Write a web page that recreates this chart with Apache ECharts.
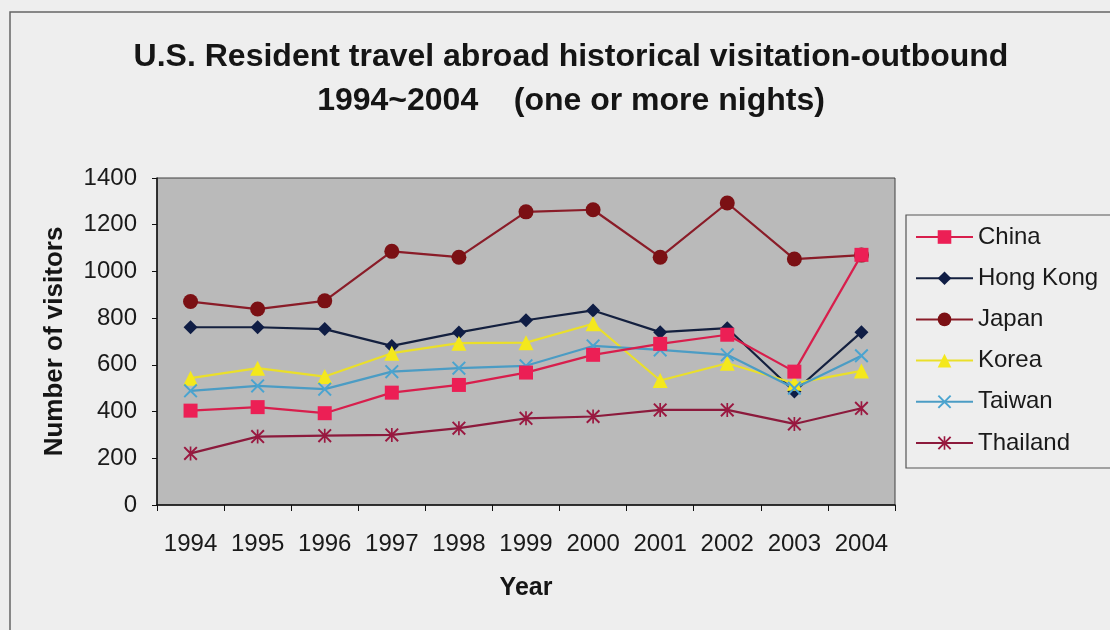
<!DOCTYPE html>
<html>
<head>
<meta charset="utf-8">
<script src="https://cdn.jsdelivr.net/npm/echarts@6/dist/echarts.min.js"></script>
<style>
html,body{margin:0;padding:0;background:#eeeeee;}
#chart{width:1110px;height:630px;}
</style>
</head>
<body>
<div id="chart"></div>
<script>
const years = ['1994','1995','1996','1997','1998','1999','2000','2001','2002','2003','2004'];
const yTicks = [0, 200, 400, 600, 800, 1000, 1200, 1400];
const seriesNames = ['China', 'Hong Kong', 'Japan', 'Korea', 'Taiwan', 'Thailand'];
const china    = [404, 419, 393, 481, 514, 567, 643, 690, 729, 571, 1071];
const hongKong = [761, 761, 753, 681, 739, 791, 833, 740, 757, 486, 740];
const japan    = [871, 839, 874, 1086, 1061, 1255, 1264, 1061, 1293, 1053, 1070];
const korea    = [543, 586, 550, 650, 693, 695, 776, 533, 607, 521, 574];
const taiwan   = [489, 510, 496, 571, 586, 596, 681, 664, 643, 500, 639];
const thailand = [221, 293, 297, 300, 329, 371, 379, 407, 407, 347, 414];

const FONT = 'Liberation Sans, Arial, sans-serif';
const xPath = 'path://M0,1 L1,0 L5,4 L9,0 L10,1 L6,5 L10,9 L9,10 L5,6 L1,10 L0,9 L4,5 Z';
const starPath = 'path://M0,1 L1,0 L5,4 L9,0 L10,1 L6,5 L10,9 L9,10 L5,6 L1,10 L0,9 L4,5 Z M4.4,0 L5.6,0 L5.6,10 L4.4,10 Z';

function mk(name, data, lineColor, markColor, symbol, size, z) {
  return {
    name: name, type: 'line', data: data,
    symbol: symbol, symbolSize: size, z: z || 2,
    lineStyle: { color: lineColor, width: 2.2 },
    itemStyle: { color: markColor, borderWidth: 0 },
    emphasis: { disabled: true },
    animation: false
  };
}

const chart = echarts.init(document.getElementById('chart'), null, { renderer: 'canvas' });
chart.setOption({
  backgroundColor: '#eeeeee',
  animation: false,
  title: {
    text: 'U.S. Resident travel abroad historical visitation-outbound\n1994~2004    (one or more nights)',
    left: 566, top: 30, textAlign: 'center',
    textStyle: { fontFamily: FONT, fontSize: 32, fontWeight: 'bold', color: '#151515', lineHeight: 44 }
  },
  graphic: [
    { type: 'rect', shape: { x: 10, y: 12, width: 1120, height: 640 }, style: { fill: 'none', stroke: '#666', lineWidth: 1.5 }, silent: true },
    { type: 'rect', shape: { x: 906, y: 215, width: 230, height: 253 }, style: { fill: 'none', stroke: '#555', lineWidth: 1.2 }, silent: true }
  ],
  legend: {
    orient: 'vertical', left: 915, top: 225, padding: 0,
    itemWidth: 57, itemHeight: 17, itemGap: 17.2,
    data: seriesNames,
    textStyle: { fontFamily: FONT, fontSize: 24, color: '#1a1a1a' }
  },
  grid: {
    left: 157, top: 178, width: 738, height: 327,
    show: true, backgroundColor: '#bababa', borderColor: '#404040', borderWidth: 1
  },
  xAxis: {
    type: 'category', data: years, boundaryGap: true,
    name: 'Year', nameLocation: 'middle', nameGap: 71,
    nameTextStyle: { fontFamily: FONT, fontSize: 25, fontWeight: 'bold', color: '#151515' },
    axisLine: { lineStyle: { color: '#111', width: 1.5 } },
    axisTick: { show: true, alignWithLabel: false, length: 6, lineStyle: { color: '#111' } },
    axisLabel: { interval: 0, margin: 27, fontFamily: FONT, fontSize: 24, color: '#1a1a1a' },
    splitLine: { show: false }
  },
  yAxis: {
    type: 'value', min: yTicks[0], max: yTicks[yTicks.length - 1], interval: 200,
    name: 'Number of visitors', nameLocation: 'middle', nameGap: 89, nameRotate: 90,
    nameTextStyle: { fontFamily: FONT, fontSize: 26, fontWeight: 'bold', color: '#151515' },
    axisLine: { show: true, lineStyle: { color: '#111', width: 1.5 } },
    axisTick: { show: true, length: 5, lineStyle: { color: '#111' } },
    axisLabel: { margin: 20, fontFamily: FONT, fontSize: 24, color: '#1a1a1a', formatter: function (v) { return String(v); } },
    splitLine: { show: false }
  },
  series: [
    mk('China', china, '#d81e4c', '#ec1f55', 'rect', 14, 3),
    mk('Hong Kong', hongKong, '#14203f', '#0f1d45', 'diamond', 14),
    mk('Japan', japan, '#8a1c28', '#7b1014', 'circle', 15),
    mk('Korea', korea, '#eadf2a', '#f4e81c', 'triangle', 15),
    mk('Taiwan', taiwan, '#4b9cc4', '#4aa4d0', xPath, 14),
    mk('Thailand', thailand, '#8c1a3c', '#9a1840', starPath, 14)
  ]
});
</script>
</body>
</html>
